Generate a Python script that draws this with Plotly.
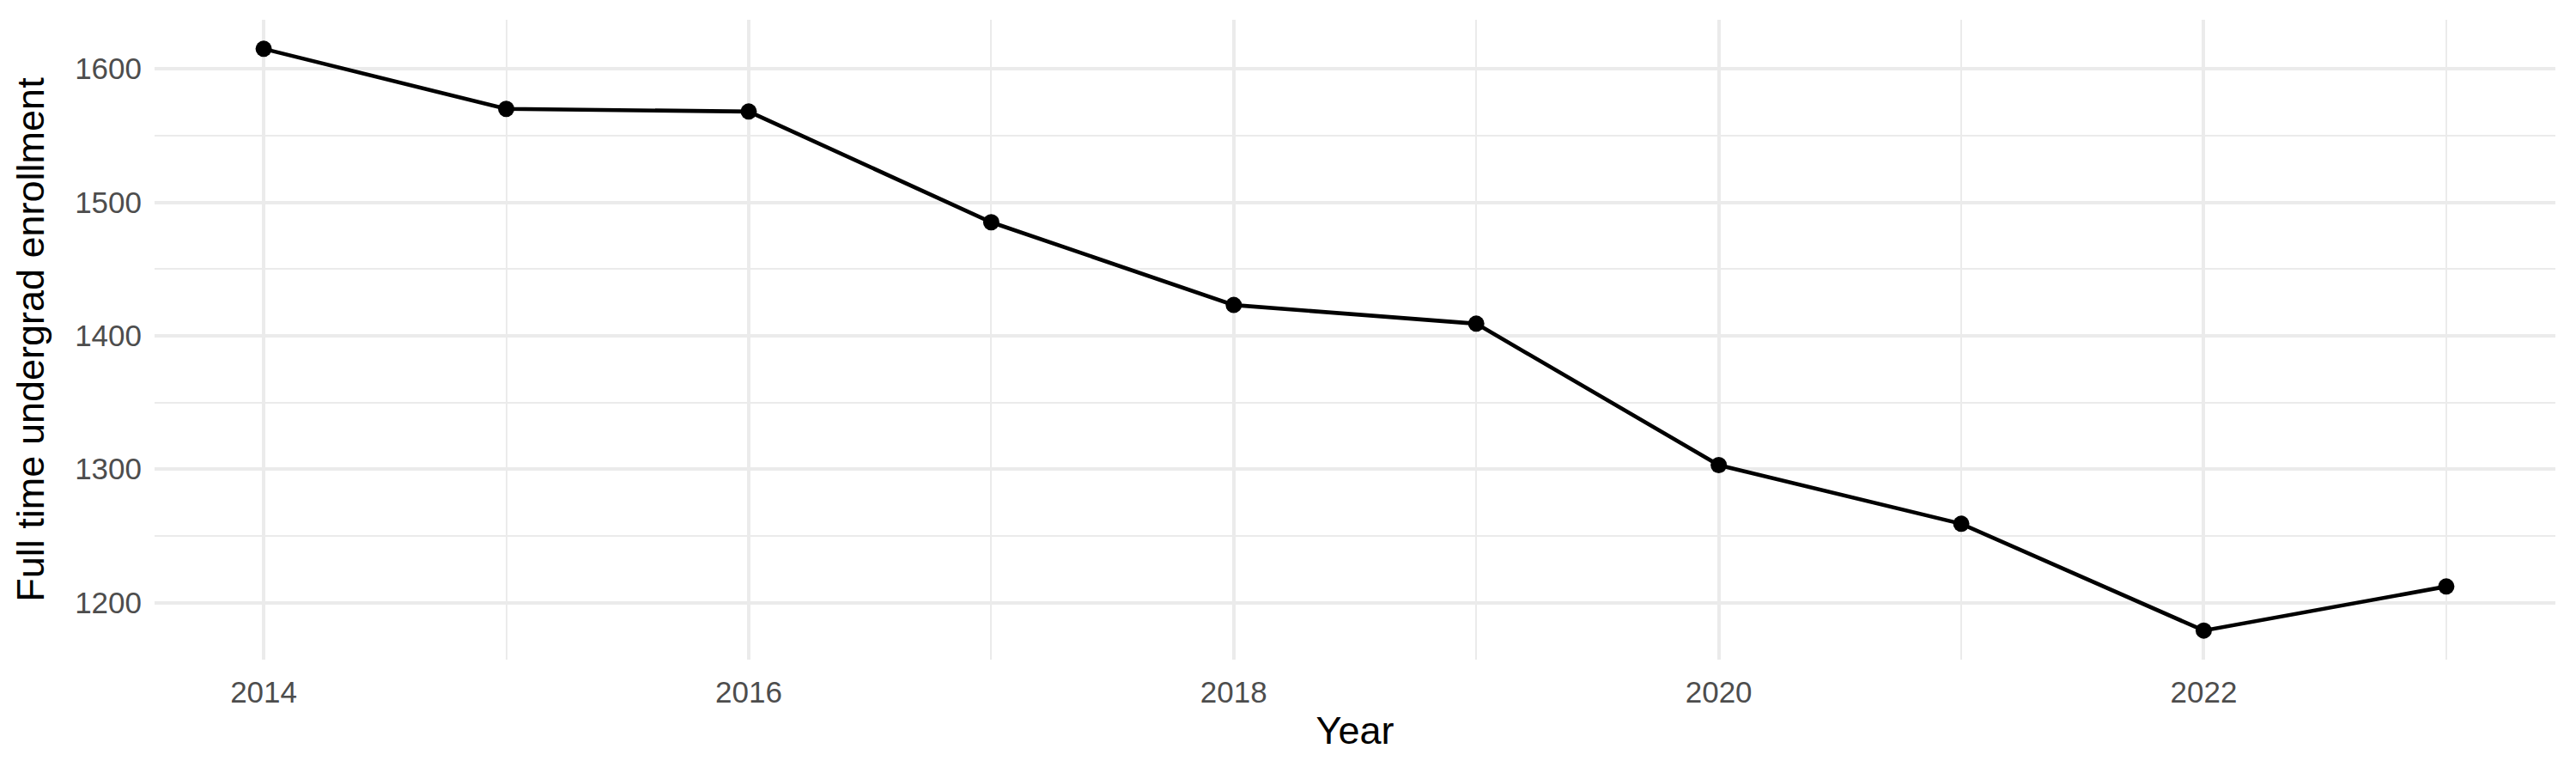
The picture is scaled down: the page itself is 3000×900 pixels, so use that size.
import plotly.graph_objects as go

years = [2014, 2015, 2016, 2017, 2018, 2019, 2020, 2021, 2022, 2023]
enrollment = [1615, 1570, 1568, 1485, 1423, 1409, 1303, 1259, 1179, 1212]

x_tickvals = [2014, 2016, 2018, 2020, 2022]
y_tickvals = [1200, 1300, 1400, 1500, 1600]

GRID = "#EBEBEB"
FONT = "Liberation Sans"

fig = go.Figure()
fig.add_trace(go.Scatter(
    x=years, y=enrollment, mode="lines+markers",
    line=dict(color="black", width=4.6),
    marker=dict(color="black", size=19),
    showlegend=False,
))

xr = [min(years) - 0.05 * (max(years) - min(years)), max(years) + 0.05 * (max(years) - min(years))]
yspan = max(enrollment) - min(enrollment)
yr = [min(enrollment) - 0.05 * yspan, max(enrollment) + 0.05 * yspan]

fig.update_layout(
    width=2992, height=892,
    paper_bgcolor="white", plot_bgcolor="white",
    margin=dict(l=172, r=24, t=15, b=132),
    font=dict(family=FONT, color="#4D4D4D", size=35),
    xaxis=dict(
        range=xr, tickvals=x_tickvals, ticktext=[str(v) for v in x_tickvals],
        showgrid=True, gridcolor=GRID, gridwidth=4, zeroline=False, showline=False,
        ticks="", ticklabelstandoff=14,
        minor=dict(dtick=1, tick0=2015, showgrid=True, gridcolor=GRID, gridwidth=2),
        title=dict(text="Year", font=dict(family=FONT, size=45, color="black"), standoff=10),
        tickfont=dict(family=FONT, size=35, color="#4D4D4D"),
    ),
    yaxis=dict(
        range=yr, tickvals=y_tickvals, ticktext=[str(v) for v in y_tickvals],
        showgrid=True, gridcolor=GRID, gridwidth=4, zeroline=False, showline=False,
        ticks="", ticklabelstandoff=14,
        minor=dict(dtick=50, tick0=1150, showgrid=True, gridcolor=GRID, gridwidth=2),
        title=dict(text="Full time undergrad enrollment", font=dict(family=FONT, size=45, color="black"), standoff=21),
        tickfont=dict(family=FONT, size=35, color="#4D4D4D"),
    ),
)

fig.write_html("out.html")
